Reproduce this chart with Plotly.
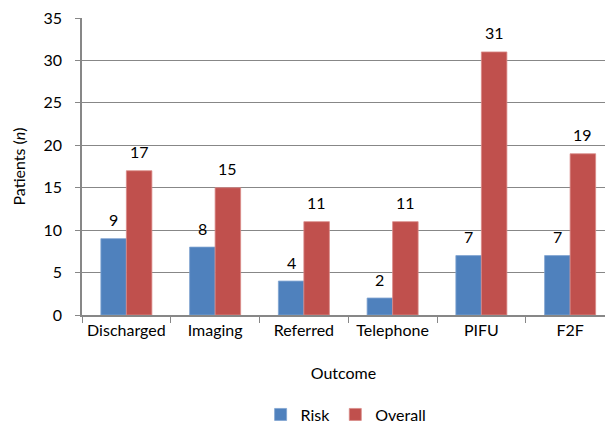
import plotly.graph_objects as go

# Outcome categories and patient counts
outcomes = ["Discharged", "Imaging", "Referred", "Telephone", "PIFU", "F2F"]
risk = [9, 8, 4, 2, 7, 7]
overall = [17, 15, 11, 11, 31, 19]

BLUE = "#4F81BD"
RED = "#C0504D"
GRID = "#878787"
FONT = "Lato"
FS = 16

fig = go.Figure()
fig.add_trace(go.Bar(
    name="Risk", x=outcomes, y=risk,
    marker=dict(color=BLUE, line=dict(color="#7FA3D1", width=0.8)),
))
fig.add_trace(go.Bar(
    name="Overall", x=outcomes, y=overall,
    marker=dict(color=RED, line=dict(color="#D98A88", width=0.8)),
))

# value labels above each bar
bar_half = 12.8
for vals, shift in ((risk, -bar_half), (overall, bar_half)):
    for cat, v in zip(outcomes, vals):
        fig.add_annotation(
            x=cat, y=v, text=str(v), showarrow=False,
            xshift=shift, yshift=19, yanchor="middle",
            font=dict(family=FONT, size=FS, color="#000000"),
        )

fig.update_layout(
    width=605, height=423,
    margin=dict(l=82, r=0, t=18, b=108, autoexpand=False),
    paper_bgcolor="white", plot_bgcolor="white",
    barmode="group", bargap=0.425, bargroupgap=0,
    font=dict(family=FONT, size=FS, color="#000000"),
    showlegend=True,
    legend=dict(
        orientation="h", x=0.505, xanchor="center",
        yref="container", y=0.02, yanchor="middle",
        font=dict(family=FONT, size=FS), itemwidth=30, traceorder="normal",
    ),
    xaxis=dict(
        type="category", range=[-0.5, 5.393], automargin=False,
        showgrid=False, showline=True, linecolor=GRID, linewidth=1.5,
        ticks="outside", tickson="boundaries", ticklen=6, tickcolor=GRID,
        tickfont=dict(family=FONT, size=FS),
        title=dict(text="Outcome", font=dict(family=FONT, size=FS), standoff=30),
    ),
    yaxis=dict(
        range=[0, 35], dtick=5, tick0=0, automargin=False,
        showgrid=True, gridcolor=GRID, gridwidth=1,
        showline=True, linecolor=GRID, linewidth=1.5,
        ticks="outside", ticklen=5, tickcolor=GRID, ticklabelstandoff=10,
        tickfont=dict(family=FONT, size=FS), zeroline=False,
        title=dict(text="Patients (<i>n</i>)", font=dict(family=FONT, size=FS), standoff=14),
    ),
)

fig.write_html("out.html")
